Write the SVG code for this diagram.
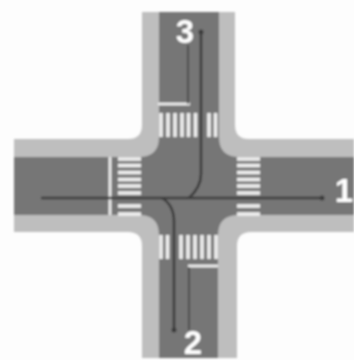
<svg xmlns="http://www.w3.org/2000/svg" width="354" height="360" viewBox="0 0 354 360">
  <defs>
    <filter id="soft" x="-5%" y="-5%" width="110%" height="110%"><feGaussianBlur stdDeviation="0.8"/></filter>
    <path id="vs" d="M0 0V24" />
    <path id="hs" d="M0 0H23" />
  </defs>
  <style>
    .stripe { stroke: #f0f0f0; stroke-width: 3.6; fill: none; }
    .stop { stroke: #f0f0f0; stroke-width: 2.8; fill: none; }
    .route { stroke: #3a3a3a; stroke-width: 2.6; fill: none; }
    .guide { stroke: #484848; stroke-width: 1.8; fill: none; }
    .label { font-family: "Liberation Sans", Arial, sans-serif; font-weight: 700; font-size: 33px; fill: #ffffff; text-anchor: middle; }
  </style>
  <rect width="354" height="360" fill="#fdfdfd"/>
  <g filter="url(#soft)">
    <g id="sidewalk">
      <path fill="#bebebe" d="M142 12H235V125Q235 139 249 139H354V232H251Q237 232 237 246V358H142V246Q142 232 128 232H14V139H128Q142 139 142 125Z"/>
    </g>
    <g id="road">
      <path fill="#767676" d="M159 12H219V137Q219 157 239 157H354V215H239Q218 215 218 235V358H159V235Q159 215 139 215H14V157H139Q159 157 159 137Z"/>
    </g>
    <g id="crosswalk-north" class="stripe">
      <use href="#vs" x="161" y="113"/><use href="#vs" x="168" y="113"/><use href="#vs" x="175" y="113"/><use href="#vs" x="182" y="113"/><use href="#vs" x="188.500" y="113"/><use href="#vs" x="195.500" y="113"/><use href="#vs" x="209" y="113"/><use href="#vs" x="215.500" y="113"/>
    </g>
    <g id="crosswalk-south" class="stripe">
      <use href="#vs" x="161" y="235"/><use href="#vs" x="167.500" y="235"/><use href="#vs" x="181" y="235"/><use href="#vs" x="188" y="235"/><use href="#vs" x="195" y="235"/><use href="#vs" x="202" y="235"/><use href="#vs" x="209" y="235"/><use href="#vs" x="216" y="235"/>
    </g>
    <g id="crosswalk-west" class="stripe">
      <use href="#hs" x="118" y="159"/><use href="#hs" x="118" y="165.500"/><use href="#hs" x="118" y="172.500"/><use href="#hs" x="118" y="179.500"/><use href="#hs" x="118" y="186"/><use href="#hs" x="118" y="193"/><use href="#hs" x="118" y="206"/><use href="#hs" x="118" y="214"/>
    </g>
    <g id="crosswalk-east" class="stripe">
      <use href="#hs" x="237" y="159"/><use href="#hs" x="237" y="165.500"/><use href="#hs" x="237" y="172.500"/><use href="#hs" x="237" y="179.500"/><use href="#hs" x="237" y="186"/><use href="#hs" x="237" y="193"/><use href="#hs" x="237" y="206"/><use href="#hs" x="237" y="214"/>
    </g>
    <g id="connectors">
      <path class="stop" d="M158 104H190"/>
      <path class="stop" d="M110 157V215"/>
      <path class="stop" d="M188 266H218"/>
      <path class="guide" d="M188 45V104"/>
      <path class="guide" d="M189 267V330"/>
      <path class="route" d="M41 198H322"/>
      <circle cx="322" cy="198" r="2.500" fill="#3a3a3a"/>
      <path class="route" d="M201 32V174Q201 187 189 198"/>
      <circle cx="201" cy="32" r="2.500" fill="#3a3a3a"/>
      <path class="route" d="M162 198Q174 205 174 222V330"/>
      <circle cx="174" cy="330" r="2.500" fill="#3a3a3a"/>
    </g>
    <g id="label-1"><text class="label" x="344" y="202">1</text></g>
    <g id="label-2"><text class="label" x="193" y="354">2</text></g>
    <g id="label-3"><text class="label" x="185" y="43">3</text></g>
  </g>
</svg>
